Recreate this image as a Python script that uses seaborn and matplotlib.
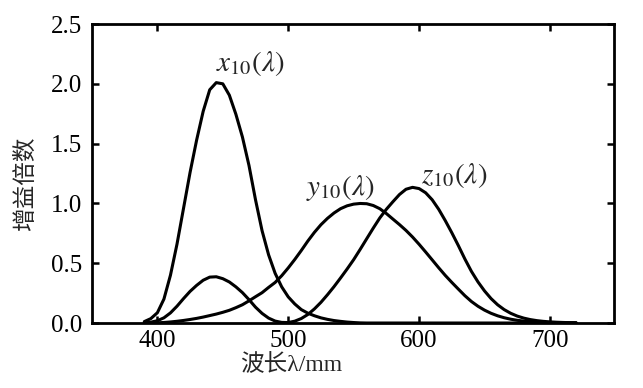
import numpy as np
import pandas as pd
import matplotlib
matplotlib.use("Agg")
import matplotlib.pyplot as plt
import seaborn as sns

# wavelength grid (nm), 5 nm steps
wavelength = list(range(390, 725, 5))

# big blue peak (labelled x10)
big_peak = [0.0118, 0.0369, 0.0860, 0.2000, 0.4000, 0.6600, 0.9600, 1.2600,
            1.5300, 1.7700, 1.9500, 2.0100, 2.0000, 1.9050, 1.7454, 1.5549,
            1.3176, 1.0302, 0.7721, 0.5701, 0.4153, 0.3024, 0.2185, 0.1592,
            0.1120, 0.0822, 0.0607, 0.0431, 0.0305, 0.0206, 0.0137, 0.0079,
            0.0040, 0.0011, 0.0, 0.0, 0.0, 0.0, 0.0, 0.0, 0.0, 0.0, 0.0, 0.0,
            0.0, 0.0, 0.0, 0.0, 0.0, 0.0, 0.0, 0.0, 0.0, 0.0, 0.0, 0.0, 0.0,
            0.0, 0.0, 0.0, 0.0, 0.0, 0.0, 0.0, 0.0, 0.0, 0.0]

# green curve (labelled y10)
green = [0.0003, 0.0008, 0.0020, 0.0045, 0.0088, 0.0145, 0.0214, 0.0295,
         0.0387, 0.0496, 0.0621, 0.0747, 0.0895, 0.1063, 0.1282, 0.1528,
         0.1852, 0.2199, 0.2536, 0.2977, 0.3391, 0.3954, 0.4608, 0.5314,
         0.6067, 0.6857, 0.7580, 0.8220, 0.8752, 0.9200, 0.9560, 0.9800,
         0.9940, 0.9995, 0.9973, 0.9824, 0.9556, 0.9152, 0.8689, 0.8230,
         0.7740, 0.7190, 0.6583, 0.5939, 0.5280, 0.4618, 0.3981, 0.3396,
         0.2835, 0.2283, 0.1798, 0.1402, 0.1076, 0.0812, 0.0603, 0.0441,
         0.0318, 0.0226, 0.0159, 0.0111, 0.0077, 0.0054, 0.0037, 0.0026,
         0.0018, 0.0013, 0.0009]

# small blue bump + red lobe (red lobe labelled z10)
red = [0.0024, 0.0072, 0.0191, 0.0434, 0.0847, 0.1406, 0.2045, 0.2647,
       0.3147, 0.3577, 0.3837, 0.3867, 0.3707, 0.3430, 0.3023, 0.2541,
       0.1956, 0.1324, 0.0805, 0.0411, 0.0162, 0.0051, 0.0038, 0.0154,
       0.0375, 0.0714, 0.1178, 0.1730, 0.2365, 0.3042, 0.3768, 0.4516,
       0.5298, 0.6161, 0.7052, 0.7938, 0.8787, 0.9512, 1.0142, 1.0743,
       1.1185, 1.1343, 1.1240, 1.0891, 1.0305, 0.9507, 0.8563, 0.7549,
       0.6475, 0.5351, 0.4316, 0.3437, 0.2683, 0.2043, 0.1526, 0.1122,
       0.0813, 0.0579, 0.0409, 0.0286, 0.0199, 0.0138, 0.0096, 0.0066,
       0.0046, 0.0031, 0.0022]

df = pd.DataFrame({"wl": wavelength, "big": big_peak, "green": green, "red": red})

sns.set_theme(style="ticks")
plt.rcParams["font.family"] = ["Liberation Serif", "Noto Sans CJK SC", "DejaVu Sans"]
plt.rcParams["mathtext.fontset"] = "stix"

fig = plt.figure(figsize=(6.43, 3.88), dpi=100)
ax = fig.add_axes([0.143, 0.1675, 0.812, 0.7706])

for col in ["big", "green", "red"]:
    sns.lineplot(data=df, x="wl", y=col, ax=ax, color="black", linewidth=2.2)

ax.set_xlim(350, 749)
ax.set_ylim(0, 2.5)
ax.set_xticks([400, 500, 600, 700])
ax.set_yticks([0.0, 0.5, 1.0, 1.5, 2.0, 2.5])
ax.yaxis.set_major_formatter(matplotlib.ticker.FormatStrFormatter("%.1f"))
ax.tick_params(direction="in", top=True, right=True, length=5, width=1.8,
               labelsize=18, colors="black")
ax.tick_params(axis="y", pad=7)
ax.tick_params(axis="x", pad=5)
for s in ax.spines.values():
    s.set_linewidth(2)
    s.set_color("black")

cjk = ["Liberation Serif", "Noto Sans CJK SC", "DejaVu Sans"]
ax.set_xlabel("波长λ/mm", family=cjk, fontsize=17)
ax.xaxis.set_label_coords(0.381, -0.105)
ax.set_ylabel("增益倍数", family=cjk, fontsize=17)
ax.yaxis.set_label_coords(-0.105, 0.467)

ax.text(471, 2.17, r"$x_{\mathrm{10}}(\lambda)$", fontsize=21, ha="center", va="center")
ax.text(540, 1.125, r"$y_{\mathrm{10}}(\lambda)$", fontsize=21, ha="center", va="center")
ax.text(627, 1.23, r"$z_{\mathrm{10}}(\lambda)$", fontsize=21, ha="center", va="center")

fig.savefig("out.png", dpi=100)
